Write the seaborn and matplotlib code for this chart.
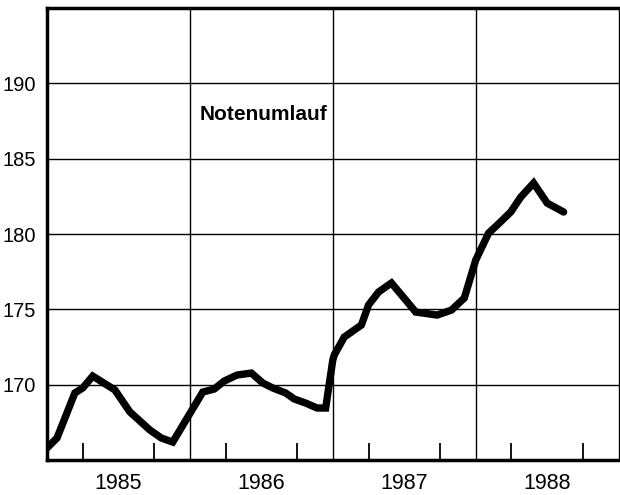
import numpy as np
import pandas as pd
import matplotlib
matplotlib.use("Agg")
import matplotlib.pyplot as plt
import seaborn as sns

# Notenumlauf (Mrd DM)
zeit = [1985.00, 1985.07, 1985.195, 1985.25, 1985.32, 1985.475, 1985.58, 1985.72,
        1985.80, 1985.88, 1986.09, 1986.17, 1986.24, 1986.33, 1986.43, 1986.51,
        1986.58, 1986.67, 1986.73, 1986.81, 1986.89, 1986.95, 1987.00, 1987.01,
        1987.08, 1987.20, 1987.25, 1987.32, 1987.41, 1987.51, 1987.58, 1987.73,
        1987.83, 1987.92, 1988.00, 1988.09, 1988.15, 1988.245, 1988.315, 1988.405,
        1988.50, 1988.615]
umlauf = [165.80, 166.46, 169.45, 169.78, 170.57, 169.65, 168.19, 166.99,
          166.46, 166.19, 169.51, 169.71, 170.24, 170.64, 170.77, 170.11,
          169.78, 169.45, 169.05, 168.78, 168.45, 168.45, 171.64, 171.97,
          173.16, 173.96, 175.29, 176.15, 176.75, 175.62, 174.82, 174.62,
          174.95, 175.75, 178.27, 180.06, 180.59, 181.46, 182.45, 183.38,
          182.05, 181.46]

jahre = [1985, 1986, 1987, 1988]
y_ticks = [170, 175, 180, 185, 190]

df = pd.DataFrame({"zeit": zeit, "umlauf": umlauf})

sns.set_style("white")
plt.rcParams["font.family"] = ["Liberation Sans", "DejaVu Sans"]
plt.rcParams["text.color"] = "black"
plt.rcParams["xtick.color"] = "black"
plt.rcParams["ytick.color"] = "black"

fig = plt.figure(figsize=(6.2, 4.95), dpi=100)
ax = fig.add_axes([0.0758, 0.0707, 0.922, 0.9131])

sns.lineplot(data=df, x="zeit", y="umlauf", estimator=None, color="black",
             linewidth=5.3, ax=ax, solid_joinstyle="miter")

ax.set_xlim(1985, 1989)
ax.set_ylim(165, 195)

# grid lines
for j in jahre[1:]:
    ax.axvline(j, color="black", linewidth=1, zorder=1)
for v in y_ticks:
    ax.axhline(v, color="black", linewidth=1, zorder=1)

ax.set_yticks(y_ticks)
ax.set_yticklabels([str(v) for v in y_ticks], fontsize=14.5)
ax.tick_params(axis="y", length=0, pad=8, labelcolor="black")

ax.set_xticks([j + 0.5 for j in jahre])
ax.set_xticklabels([str(j) for j in jahre], fontsize=15.5)
ax.tick_params(axis="x", which="major", length=0, pad=9, labelcolor="black")
quartale = [j + q for j in jahre for q in (0.25, 0.5, 0.75)]
ax.set_xticks(quartale, minor=True)
ax.tick_params(axis="x", which="minor", bottom=True, direction="in", length=12,
               width=1.3, color="black")

ax.set_xlabel("")
ax.set_ylabel("")

for side in ["left", "bottom", "top"]:
    ax.spines[side].set_linewidth(2.5)
    ax.spines[side].set_color("black")
ax.spines["right"].set_linewidth(1)
ax.spines["right"].set_color("black")

ax.text(1986.07, 187.9, "Notenumlauf", fontsize=15, fontweight="bold",
        va="center", ha="left", color="black")

fig.savefig("out.png", dpi=100)
